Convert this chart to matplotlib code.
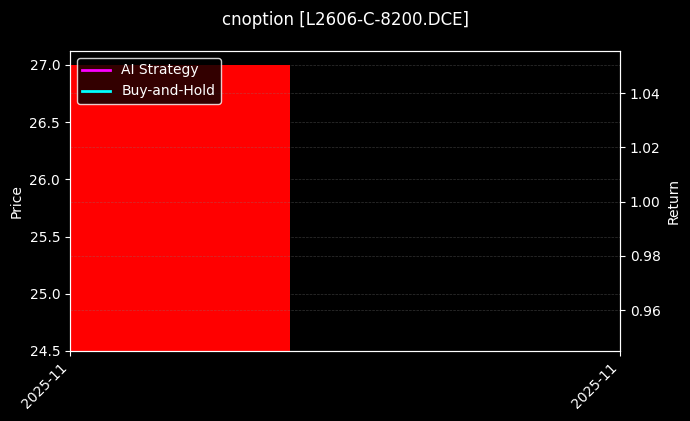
import numpy as np
import pandas as pd
import matplotlib
matplotlib.use("Agg")
import matplotlib.pyplot as plt
import matplotlib.dates as mdates

plt.style.use("dark_background")

title = "cnoption [L2606-C-8200.DCE]"
dates = pd.to_datetime(["2025-11-03"])
bar_low = [24.5]
bar_high = [27.0]
ai_strategy = [1.0]
buy_and_hold = [1.0]

fig = plt.figure(figsize=(6.9, 4.21), dpi=100)
ax = fig.add_axes([0.1014, 0.1663, 0.7972, 0.7126])
ax2 = ax.twinx()

x = mdates.date2num(dates)
heights = np.array(bar_high) - np.array(bar_low)
ax.bar(x, heights, bottom=bar_low, width=0.8, color="#ff0000", zorder=2)
ax.set_xlim(x[0], x[0] + 1)
ax.set_ylim(24.5, 27.122)
ax.set_ylabel("Price")
ax.grid(True, color="gray", linestyle="--", linewidth=0.5, alpha=0.4)

ax2.plot(x, ai_strategy, color="magenta", lw=2, label="AI Strategy")
ax2.plot(x, buy_and_hold, color="cyan", lw=2, label="Buy-and-Hold")
ax2.set_ylim(0.9449, 1.0555)
ax2.set_ylabel("Return")
ax2.grid(True, color="gray", linestyle="--", linewidth=0.5, alpha=0.4)

ax.set_xticks([x[0], x[0] + 1])
ax.xaxis.set_major_formatter(mdates.DateFormatter("%Y-%m"))
plt.setp(ax.get_xticklabels(), rotation=45, ha="right")

leg = ax2.legend(loc="upper left", facecolor="black", framealpha=0.8,
                 edgecolor="white")

fig.suptitle(title, fontsize=12, y=0.975)
fig.savefig("out.png", dpi=100)
